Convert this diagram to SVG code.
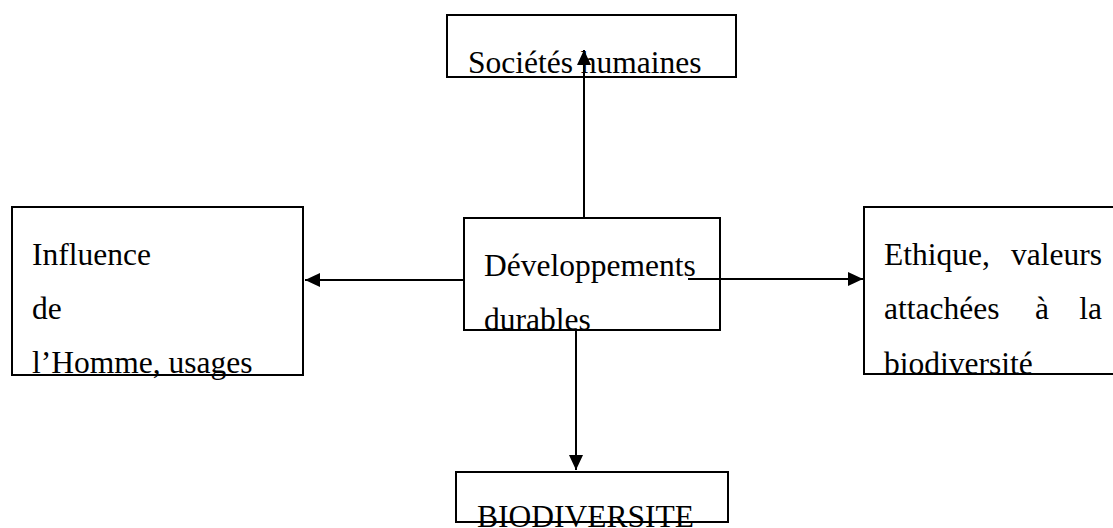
<svg xmlns="http://www.w3.org/2000/svg" width="1113" height="528" viewBox="0 0 1113 528">
  <style>
    .box { fill: #ffffff; stroke: #000000; stroke-width: 2; }
    .lbl { font-family: "Liberation Serif", "Times New Roman", serif; font-size: 31.5px; fill: #000000; }
    .conn { stroke: #000000; stroke-width: 2; fill: none; marker-end: url(#head); }
  </style>
  <defs>
    <marker id="head" markerUnits="userSpaceOnUse" markerWidth="16" markerHeight="15" refX="15" refY="7" orient="auto">
      <path d="M0,0 L15,7 L0,14 z" fill="#000000"/>
    </marker>
  </defs>

  <rect width="1113" height="528" fill="#ffffff"/>

  <g id="societes">
    <rect class="box" x="447" y="15" width="289" height="62"/>
    <text class="lbl" x="468" y="73">Sociétés humaines</text>
  </g>

  <g id="influence">
    <rect class="box" x="12" y="207" width="291" height="168"/>
    <text class="lbl" x="32" y="265">Influence</text>
    <text class="lbl" x="32" y="319">de</text>
    <text class="lbl" x="32" y="373">l’Homme, usages</text>
  </g>

  <g id="developpements">
    <rect class="box" x="464" y="218" width="256" height="112"/>
    <text class="lbl" x="484" y="276">Développements</text>
    <text class="lbl" x="484" y="330">durables</text>
  </g>

  <g id="ethique">
    <rect class="box" x="864" y="207" width="260" height="167"/>
    <text class="lbl" x="884" y="265">Ethique,</text>
    <text class="lbl" x="1102" y="265" text-anchor="end">valeurs</text>
    <text class="lbl" x="884" y="319">attachées</text>
    <text class="lbl" x="1035" y="319">à</text>
    <text class="lbl" x="1102" y="319" text-anchor="end">la</text>
    <text class="lbl" x="884" y="374">biodiversité</text>
  </g>

  <g id="biodiversite">
    <rect class="box" x="456" y="472" width="272" height="50"/>
    <text class="lbl" x="477" y="527">BIODIVERSITE</text>
  </g>

  <g id="connectors">
    <line class="conn" x1="584" y1="218" x2="584" y2="50"/>
    <line class="conn" x1="464" y1="280" x2="305" y2="280"/>
    <line class="conn" x1="688" y1="279" x2="863" y2="279"/>
    <line class="conn" x1="576" y1="330" x2="576" y2="470"/>
  </g>
</svg>
